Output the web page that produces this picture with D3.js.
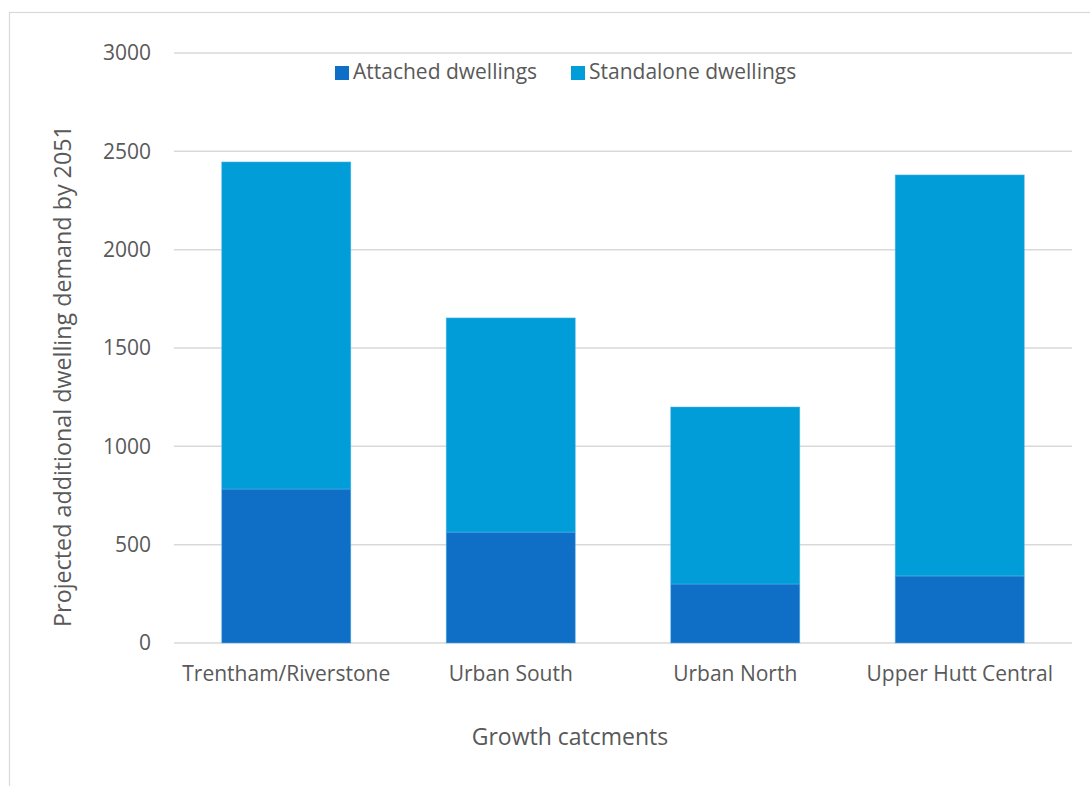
<!DOCTYPE html>
<html>
<head>
<meta charset="utf-8">
<script src="https://cdn.jsdelivr.net/npm/d3@7"></script>
<style>
  html, body { margin: 0; padding: 0; background: #fff; }
  svg { display: block; }
  text { font-family: "Open Sans", "Noto Sans", sans-serif; fill: #595959; }
</style>
</head>
<body>
<svg id="chart" width="1090" height="786"></svg>
<script>
const categories = ["Trentham/Riverstone", "Urban South", "Urban North", "Upper Hutt Central"];
const attached = [783, 564, 300, 341];
const standalone = [1663, 1089, 900, 2039];
const seriesNames = ["Attached dwellings", "Standalone dwellings"];
const seriesColors = ["#0F6FC6", "#009DD9"];
const yTicks = [0, 500, 1000, 1500, 2000, 2500, 3000];

const svg = d3.select("#chart");
const W = 1090, H = 786;
const plot = { left: 174, right: 1072, top: 53, bottom: 643 };

// outer frame
svg.append("rect").attr("x", 9.5).attr("y", 12.5).attr("width", W + 10).attr("height", H + 10)
  .attr("fill", "none").attr("stroke", "#d9d9d9").attr("stroke-width", 1.2);

const x = d3.scaleBand().domain(categories).range([plot.left, plot.right])
  .paddingInner(0.425).paddingOuter(0.2125);
const y = d3.scaleLinear().domain([0, 3000]).range([plot.bottom, plot.top]);

// gridlines
svg.append("g").selectAll("line").data(yTicks).join("line")
  .attr("x1", plot.left).attr("x2", plot.right)
  .attr("y1", d => y(d)).attr("y2", d => y(d))
  .attr("stroke", "#d9d9d9").attr("stroke-width", 1.5);

// y tick labels
const yAxis = d3.axisLeft(y).tickValues(yTicks).tickSize(0).tickPadding(0).tickFormat(d3.format("d"));
const gy = svg.append("g").attr("transform", `translate(151,0)`).call(yAxis);
gy.select(".domain").remove();
gy.selectAll("text").attr("font-size", 21).attr("fill", "#595959")
  .style("font-family", "'Open Sans', sans-serif");

// stacked data
const data = categories.map((c, i) => ({ cat: c, attached: attached[i], standalone: standalone[i] }));
const stack = d3.stack().keys(["attached", "standalone"])(data);

svg.append("g").selectAll("g").data(stack).join("g")
  .attr("fill", (d, i) => seriesColors[i])
  .selectAll("rect").data(d => d).join("rect")
  .attr("x", d => x(d.data.cat))
  .attr("width", x.bandwidth())
  .attr("y", d => y(d[1]))
  .attr("height", d => y(d[0]) - y(d[1]))
  .attr("stroke", "#5fb6e8").attr("stroke-width", 0.8).attr("stroke-opacity", 0.6);

// x axis labels
const xAxis = d3.axisBottom(x).tickSize(0).tickPadding(0);
const gx = svg.append("g").attr("transform", `translate(0,${plot.bottom + 31})`).call(xAxis);
gx.select(".domain").remove();
gx.selectAll("text").attr("font-size", 21).attr("fill", "#595959").attr("dy", "0.32em")
  .style("font-family", "'Open Sans', sans-serif");

// axis titles
svg.append("text").attr("x", 570).attr("y", 739).attr("text-anchor", "middle")
  .attr("dominant-baseline", "middle").attr("font-size", 23).text("Growth catcments");
svg.append("text").attr("transform", "translate(65,376) rotate(-90)").attr("text-anchor", "middle")
  .attr("dominant-baseline", "middle").attr("font-size", 23.3).text("Projected additional dwelling demand by 2051");

// legend
const legendX = [335, 571];
const lg = svg.append("g");
seriesNames.forEach((n, i) => {
  lg.append("rect").attr("x", legendX[i]).attr("y", 66).attr("width", 14).attr("height", 14).attr("fill", seriesColors[i]);
  lg.append("text").attr("x", legendX[i] + 18).attr("y", 73).attr("dominant-baseline", "middle")
    .attr("font-size", 21).text(n);
});
</script>
</body>
</html>
